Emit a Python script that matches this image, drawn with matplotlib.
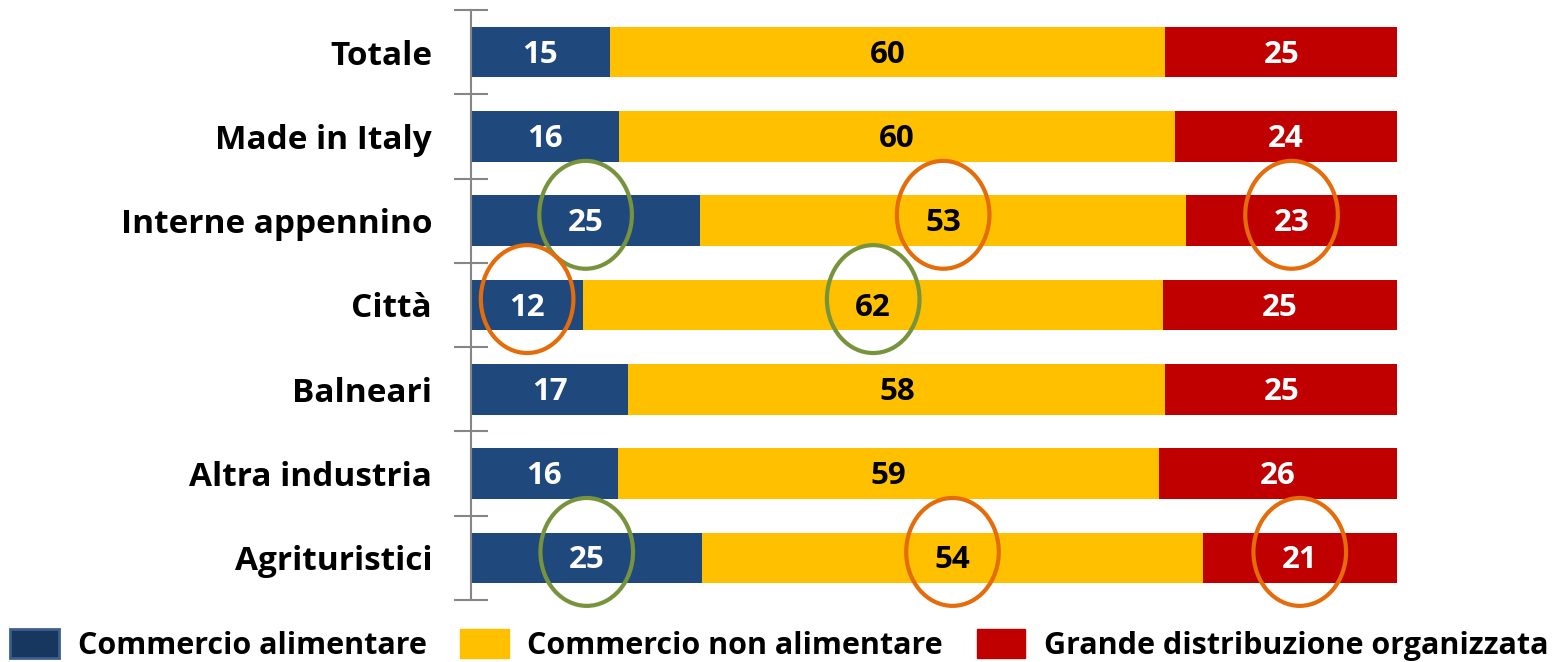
import numpy as np
import matplotlib.pyplot as plt
from matplotlib.patches import Ellipse, Patch

# Data
categories = ['Totale', 'Made in Italy', 'Interne appennino', 'Città',
              'Balneari', 'Altra industria', 'Agrituristici']
alimentare = [15, 16, 25, 12, 17, 16, 25]
non_alimentare = [60, 60, 53, 62, 58, 59, 54]
gdo = [25, 24, 23, 25, 25, 26, 21]
series_names = ['Commercio alimentare', 'Commercio non alimentare',
                'Grande distribuzione organizzata']

# highlighted values: (row index, series index, colour)
highlights = [(2, 0, 'green'), (2, 1, 'orange'), (2, 2, 'orange'),
              (3, 0, 'orange'), (3, 1, 'green'),
              (6, 0, 'green'), (6, 1, 'orange'), (6, 2, 'orange')]

plt.rcParams['font.family'] = ['Open Sans', 'DejaVu Sans']
plt.rcParams['font.weight'] = 'bold'

colors = ['#1F497D', '#FFC000', '#C00000']
text_colors = ['white', 'black', 'white']
ring_colors = {'green': '#77933C', 'orange': '#E46C0A'}

data = np.array([alimentare, non_alimentare, gdo], dtype=float)
shares = data / data.sum(axis=0) * 100

fig = plt.figure(figsize=(15.56, 6.62), dpi=100)
ax = fig.add_axes([0.3027, 0.0937, 0.5951, 0.8912])

y = np.arange(len(categories))
left = np.zeros(len(categories))
centers = []
for i in range(3):
    ax.barh(y, shares[i], left=left, height=0.6, color=colors[i], edgecolor='none')
    c = left + shares[i] / 2
    centers.append(c)
    for j in range(len(categories)):
        ax.text(c[j], y[j] + 0.03, f'{int(data[i, j])}', ha='center', va='center',
                color=text_colors[i], fontsize=22.5, fontweight='bold')
    left = left + shares[i]

for row, s, col in highlights:
    ax.add_patch(Ellipse((centers[s][row], y[row] - 0.07), width=10.0, height=1.28,
                         fill=False, edgecolor=ring_colors[col], linewidth=3, zorder=5,
                         clip_on=False))

ax.set_xlim(0, 100)
ax.set_ylim(len(categories) - 0.5, -0.5)
ax.set_yticks(np.arange(len(categories) + 1) - 0.5)
ax.set_yticklabels([])
ax.set_yticks(y, minor=True)
ax.set_yticklabels(categories, minor=True, fontsize=24, fontweight='bold')
ax.tick_params(axis='y', which='minor', length=0, pad=28)
ax.tick_params(axis='y', which='major', direction='inout', length=25, width=1.5, color='#868686')
ax.set_xticks([])
for side in ['top', 'right', 'bottom']:
    ax.spines[side].set_visible(False)
ax.spines['left'].set_color('#868686')
ax.spines['left'].set_linewidth(1.5)

handles = [Patch(facecolor='#17375E', edgecolor='#3C5F8E', linewidth=2),
           Patch(facecolor=colors[1], edgecolor=colors[1]),
           Patch(facecolor=colors[2], edgecolor=colors[2])]
fig.legend(handles, series_names, loc='lower left', bbox_to_anchor=(-0.011, -0.04),
           ncol=3, frameon=False, handlelength=1.6, handleheight=1.1,
           handletextpad=0.6, columnspacing=1.1, prop={'weight': 'bold', 'size': 22})

fig.savefig('out.png', dpi=100)
